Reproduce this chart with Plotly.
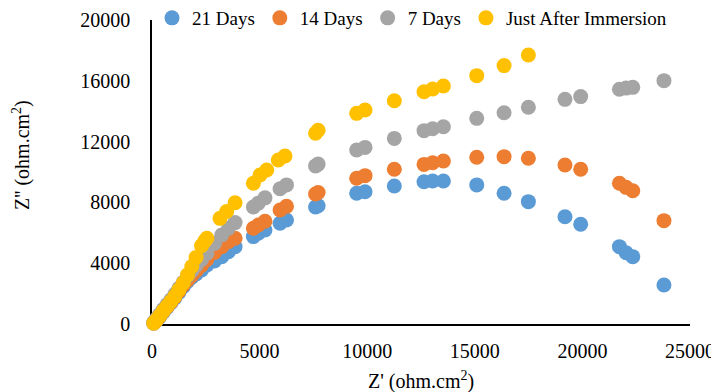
import plotly.graph_objects as go

# Shared Z' values for the 21/14/7 day series (ohm.cm2)
x_days = [80, 200, 350, 520, 700, 880, 1060, 1250, 1450, 1650, 1850, 2050, 2300, 2550, 2900,
          3240, 3550, 3860, 4710, 4940, 5250, 5950, 6250, 7600, 7720, 9510, 9900, 11260,
          12640, 13040, 13540, 15090, 16360, 17490, 19190, 19920, 21720, 22030, 22340, 23790]

y_21 = [60, 220, 470, 780, 1090, 1400, 1720, 2080, 2450, 2800, 3080, 3300, 3550, 3880, 4150,
        4430, 4760, 5090, 5750, 5970, 6180, 6630, 6840, 7700, 7780, 8600, 8700, 9080,
        9360, 9410, 9410, 9150, 8600, 8050, 7060, 6560, 5090, 4690, 4430, 2570]

y_14 = [70, 240, 500, 820, 1130, 1450, 1780, 2150, 2550, 2900, 3200, 3500, 3850, 4250, 4700,
        5090, 5420, 5640, 6300, 6510, 6760, 7500, 7740, 8550, 8650, 9590, 9760, 10180,
        10500, 10610, 10720, 10970, 11010, 10900, 10460, 10180, 9260, 8990, 8770, 6800]

y_7 = [120, 330, 620, 950, 1280, 1600, 1950, 2350, 2750, 3150, 3500, 3850, 4250, 4650, 5300,
       5855, 6300, 6670, 7700, 7950, 8300, 8900, 9150, 10400, 10520, 11450, 11620, 12210,
       12720, 12850, 12980, 13530, 13900, 14260, 14780, 14960, 15440, 15520, 15570, 16010]

x_just = [80, 200, 350, 520, 700, 880, 1060, 1250, 1450, 1650, 1850, 2050, 2300, 2450, 2550,
          3160, 3470, 3860, 4710, 5020, 5330, 5870, 6180, 7600, 7720, 9510, 9900, 11260,
          12640, 13040, 13540, 15090, 16360, 17490]
y_just = [60, 250, 530, 850, 1170, 1480, 1820, 2250, 2700, 3230, 3780, 4380, 5150, 5450, 5640,
          6950, 7400, 7980, 9260, 9800, 10130, 10790, 11050, 12550, 12750, 13860, 14080, 14690,
          15280, 15460, 15660, 16340, 17000, 17700]

series_names = ["21 Days", "14 Days", "7 Days", "Just After Immersion"]
series_colors = ["#5B9BD5", "#ED7D31", "#A5A5A5", "#FFC000"]

x_ticks = [0, 5000, 10000, 15000, 20000, 25000]
x_tick_labels = ["0", "5000", "10000", "15000", "20000", "25000"]
y_ticks = [0, 4000, 8000, 12000, 16000, 20000]
y_tick_labels = ["0", "4000", "8000", "12000", "16000", "20000"]

FONT = "Liberation Serif"

fig = go.Figure()
data = [(x_days, y_21), (x_days, y_14), (x_days, y_7), (x_just, y_just)]
for (xs, ys), name, col in zip(data, series_names, series_colors):
    fig.add_trace(go.Scatter(
        x=xs, y=ys, mode="markers", name=name,
        marker=dict(size=15, color=col, line=dict(width=0)),
        cliponaxis=False,
    ))

# The page body adds an 8px offset; size the figure so the plot area lands
# at window pixels x 152..690, y 20..324.
OFF = 8
WIN_W, WIN_H = 719, 392
PX0, PX1, PY0, PY1 = 152, 690, 20, 324
W, H = WIN_W - OFF, WIN_H - OFF
L, T = PX0 - OFF, PY0 - OFF
R, B = WIN_W - PX1, WIN_H - PY1
pw, ph = PX1 - PX0, PY1 - PY0


def px_x(wx):
    return (wx - PX0) / pw


def px_y(wy):
    return (PY1 - wy) / ph


fig.update_layout(
    width=W, height=H,
    margin=dict(l=L, r=R, t=T, b=B, autoexpand=False),
    paper_bgcolor="white", plot_bgcolor="white",
    font=dict(family=FONT, size=20, color="black"),
    showlegend=True,
    legend=dict(
        orientation="h",
        x=px_x(152), xanchor="left",
        y=px_y(18), yanchor="middle",
        font=dict(family=FONT, size=19, color="black"),
        bgcolor="rgba(0,0,0,0)",
        itemwidth=30,
        tracegroupgap=0,
    ),
    xaxis=dict(
        range=[0, 25000], tickvals=x_ticks, ticktext=x_tick_labels,
        showline=True, linecolor="black", linewidth=1.5,
        showgrid=False, zeroline=False, ticks="",
        ticklabelstandoff=8,
        tickfont=dict(family=FONT, size=20, color="black"),
        layer="below traces",
    ),
    yaxis=dict(
        range=[0, 20000], tickvals=y_ticks, ticktext=y_tick_labels,
        showline=True, linecolor="black", linewidth=1.5,
        showgrid=False, zeroline=False, ticks="",
        ticklabelstandoff=16,
        tickfont=dict(family=FONT, size=20, color="black"),
        layer="below traces",
    ),
    annotations=[
        dict(text="Z' (ohm.cm<sup>2</sup>)", xref="paper", yref="paper",
             x=0.5, y=px_y(380), xanchor="center", yanchor="middle",
             showarrow=False, font=dict(family=FONT, size=20, color="black")),
        dict(text="Z'' (ohm.cm<sup>2</sup>)", xref="paper", yref="paper",
             x=px_x(21), y=px_y(155), xanchor="center", yanchor="middle",
             textangle=-90, showarrow=False,
             font=dict(family=FONT, size=20, color="black")),
    ],
)

fig.write_html("out.html")
